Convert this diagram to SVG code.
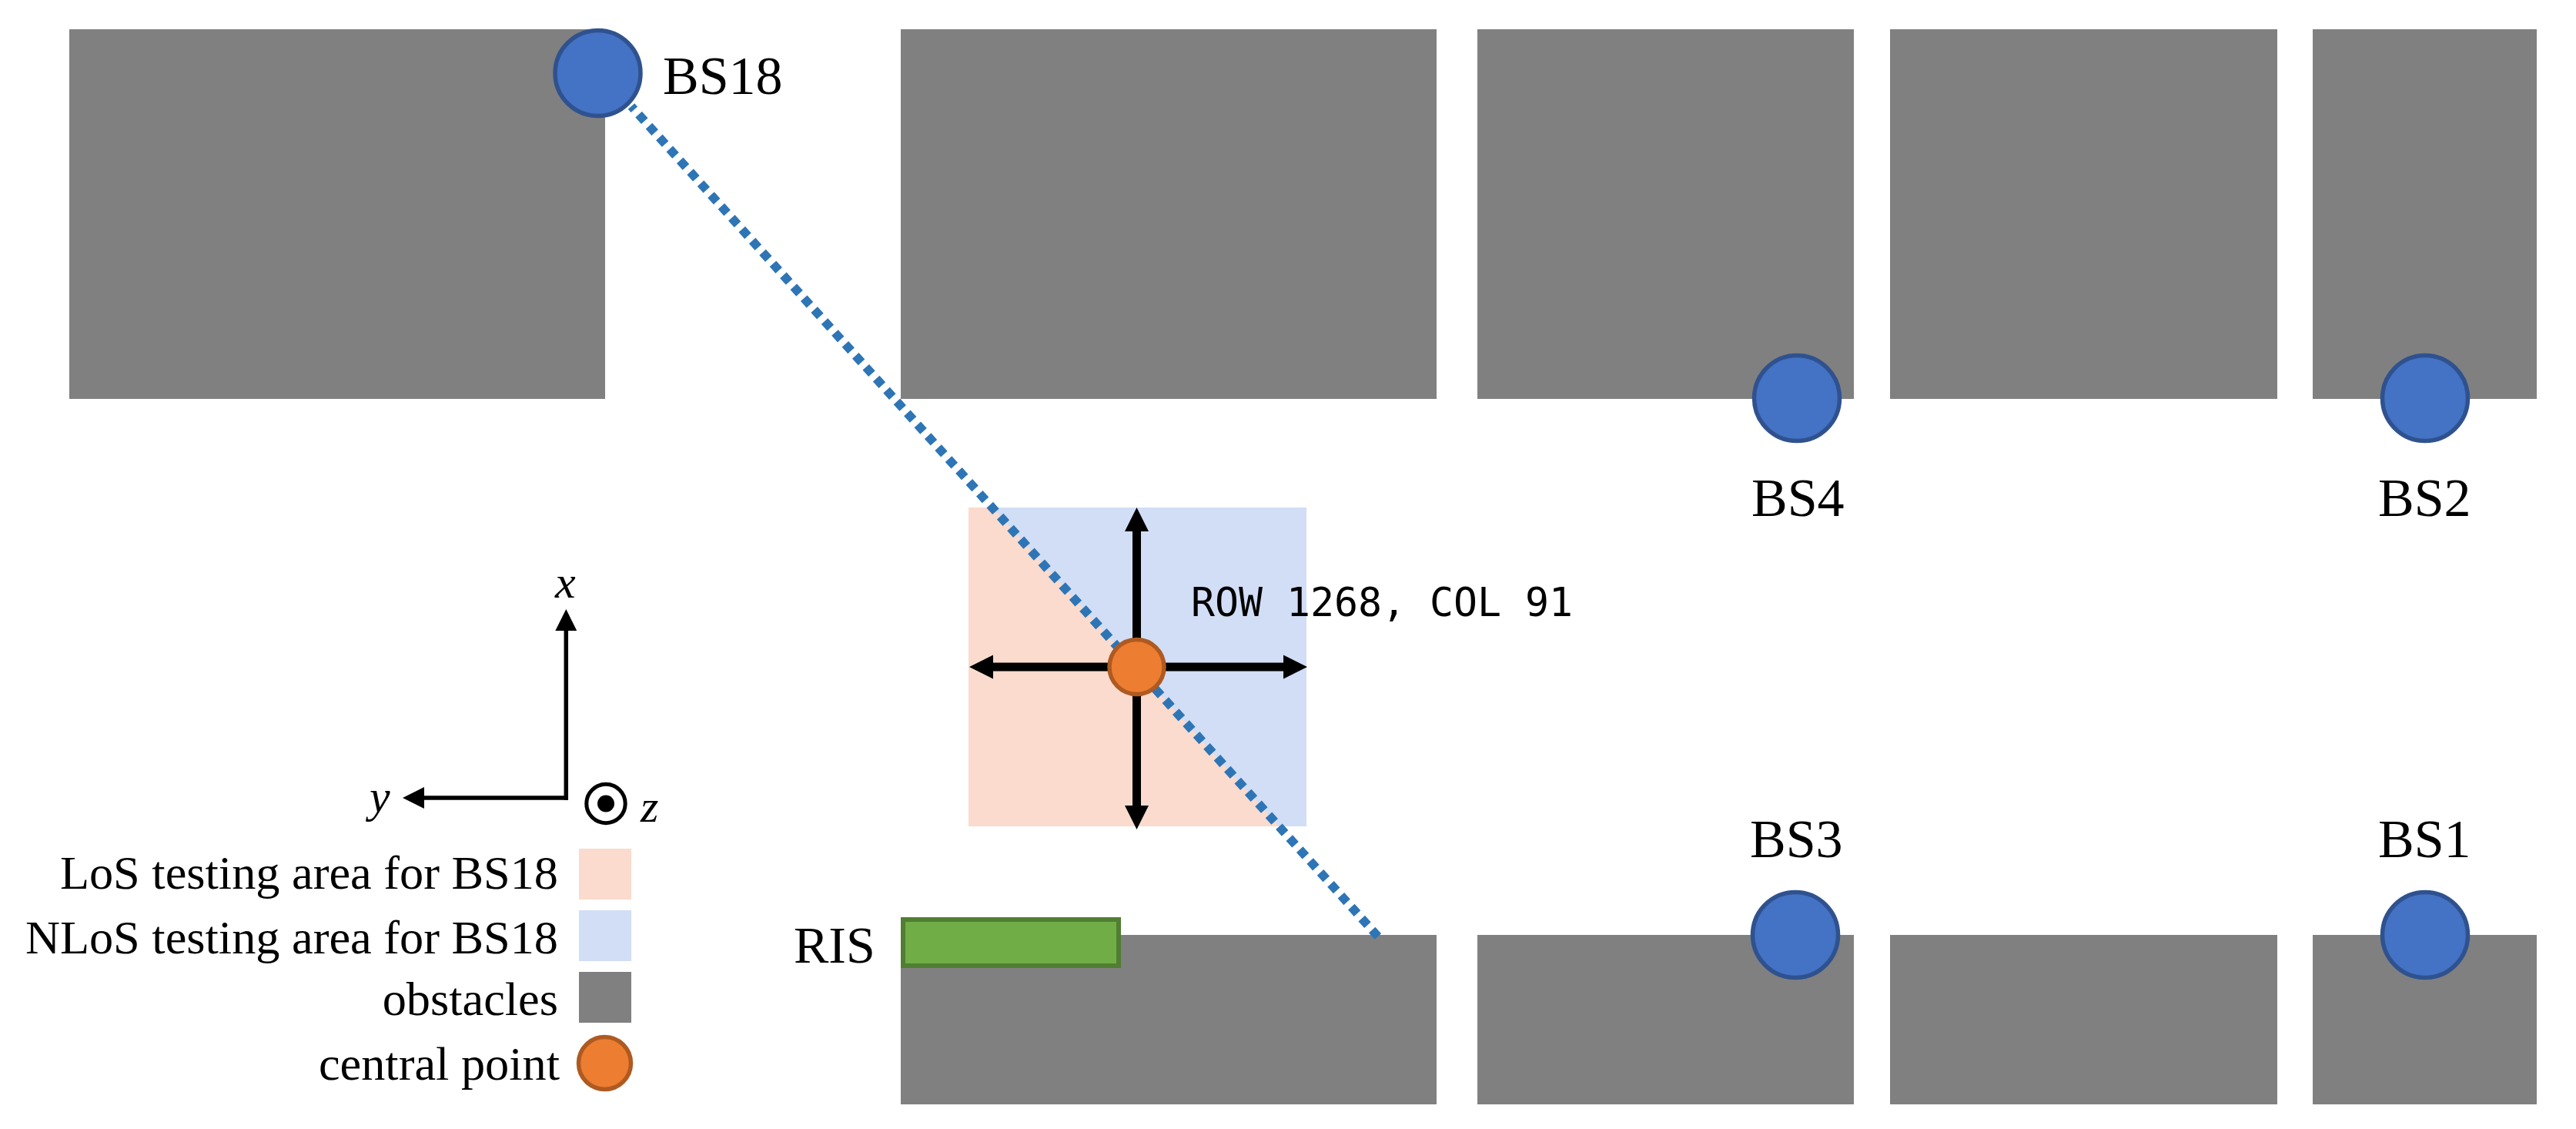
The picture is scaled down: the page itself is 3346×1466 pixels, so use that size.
<svg xmlns="http://www.w3.org/2000/svg" width="3346" height="1466" viewBox="0 0 3346 1466">
<style>
.ob{fill:#808080}
.bs{fill:#4472C4;stroke:#2F528F;stroke-width:5.5}
.or{fill:#ED7D31;stroke:#AE5A21;stroke-width:5.5}
.t{font-family:"Liberation Serif","Times New Roman",serif;font-size:70px;fill:#000}
.l{font-family:"Liberation Serif","Times New Roman",serif;font-size:62.3px;fill:#000;text-anchor:end}
.i{font-family:"Liberation Serif","Times New Roman",serif;font-size:60px;font-style:italic;fill:#000}
.m{font-family:"DejaVu Sans Mono",monospace;font-size:51.5px;fill:#000}
.a{stroke:#000;stroke-width:11;fill:none}
.b{stroke:#000;stroke-width:5.5;fill:none}
</style>
<defs>
<marker id="big" markerUnits="userSpaceOnUse" markerWidth="32" markerHeight="32" refX="0" refY="16" orient="auto"><path d="M0 0.500L31 16L0 31.500Z" fill="#000"/></marker>
<marker id="small" markerUnits="userSpaceOnUse" markerWidth="28" markerHeight="28" refX="0" refY="14" orient="auto"><path d="M0 0L28 14L0 28Z" fill="#000"/></marker>
</defs>
<rect width="3346" height="1466" fill="#fff"/>
<g id="obstacles">
<rect class="ob" x="90" y="38" width="696" height="480"/>
<rect class="ob" x="1170" y="38" width="696" height="480"/>
<rect class="ob" x="1919" y="38" width="489" height="480"/>
<rect class="ob" x="2455" y="38" width="503" height="480"/>
<rect class="ob" x="3004" y="38" width="291" height="480"/>
<rect class="ob" x="1170" y="1214" width="696" height="220"/>
<rect class="ob" x="1919" y="1214" width="489" height="220"/>
<rect class="ob" x="2455" y="1214" width="503" height="220"/>
<rect class="ob" x="3004" y="1214" width="291" height="220"/>
</g>
<g id="testing-area">
<rect x="1258" y="659" width="439" height="414" fill="#D2DEF6"/>
<polygon points="1258,659 1289,659 1661,1073 1258,1073" fill="#FADBCD"/>
</g>
<g id="bs18"><circle class="bs" cx="776.500" cy="95" r="55.500"/><text class="t" x="861" y="122">BS18</text></g>
<g id="connectors">
<line x1="820" y1="138" x2="1792.500" y2="1219" stroke="#2E75B6" stroke-width="11.500" stroke-dasharray="11.500 8.560" stroke-dashoffset="5.750"/>
<line class="a" x1="1476.500" y1="866" x2="1476.500" y2="690" marker-end="url(#big)"/>
<line class="a" x1="1476.500" y1="866" x2="1476.500" y2="1046" marker-end="url(#big)"/>
<line class="a" x1="1476.500" y1="866" x2="1290" y2="866" marker-end="url(#big)"/>
<line class="a" x1="1476.500" y1="866" x2="1667" y2="866" marker-end="url(#big)"/>
<line class="b" x1="735.300" y1="1038.700" x2="735.300" y2="819" marker-end="url(#small)"/>
<line class="b" x1="738" y1="1036" x2="551" y2="1036" marker-end="url(#small)"/>
</g>
<g id="ris"><rect x="1173" y="1194" width="280" height="60" fill="#70AD47" stroke="#507E32" stroke-width="6"/><text class="t" x="1031" y="1250" style="font-size:68px">RIS</text></g>
<g id="bs4"><circle class="bs" cx="2334" cy="517" r="55.500"/><text class="t" x="2275" y="670">BS4</text></g>
<g id="bs2"><circle class="bs" cx="3150" cy="517" r="55.500"/><text class="t" x="3089" y="670">BS2</text></g>
<g id="bs3"><circle class="bs" cx="2332" cy="1214" r="55.500"/><text class="t" x="2273" y="1113">BS3</text></g>
<g id="bs1"><circle class="bs" cx="3150" cy="1214" r="55.500"/><text class="t" x="3089" y="1113">BS1</text></g>
<g id="central"><circle class="or" cx="1476.500" cy="866" r="35.500"/></g>
<text class="m" x="1547" y="800">ROW 1268, COL 91</text>
<g id="axes">
<text class="i" x="721" y="776">x</text>
<text class="i" x="480" y="1054">y</text>
<text class="i" x="832" y="1067">z</text>
<circle cx="787" cy="1043.500" r="25.200" fill="none" stroke="#000" stroke-width="5"/>
<circle cx="787" cy="1043.500" r="11" fill="#000"/>
</g>
<g id="legend">
<text class="l" x="725" y="1154">LoS testing area for BS18</text>
<rect x="752" y="1102" width="68" height="66" fill="#FADBCD"/>
<text class="l" x="725" y="1238">NLoS testing area for BS18</text>
<rect x="752" y="1182" width="68" height="66" fill="#D2DEF6"/>
<text class="l" x="725" y="1318">obstacles</text>
<rect class="ob" x="752" y="1262" width="68" height="66"/>
<text class="l" x="727" y="1402">central point</text>
<circle class="or" cx="785.500" cy="1380.500" r="34"/>
</g>
</svg>
